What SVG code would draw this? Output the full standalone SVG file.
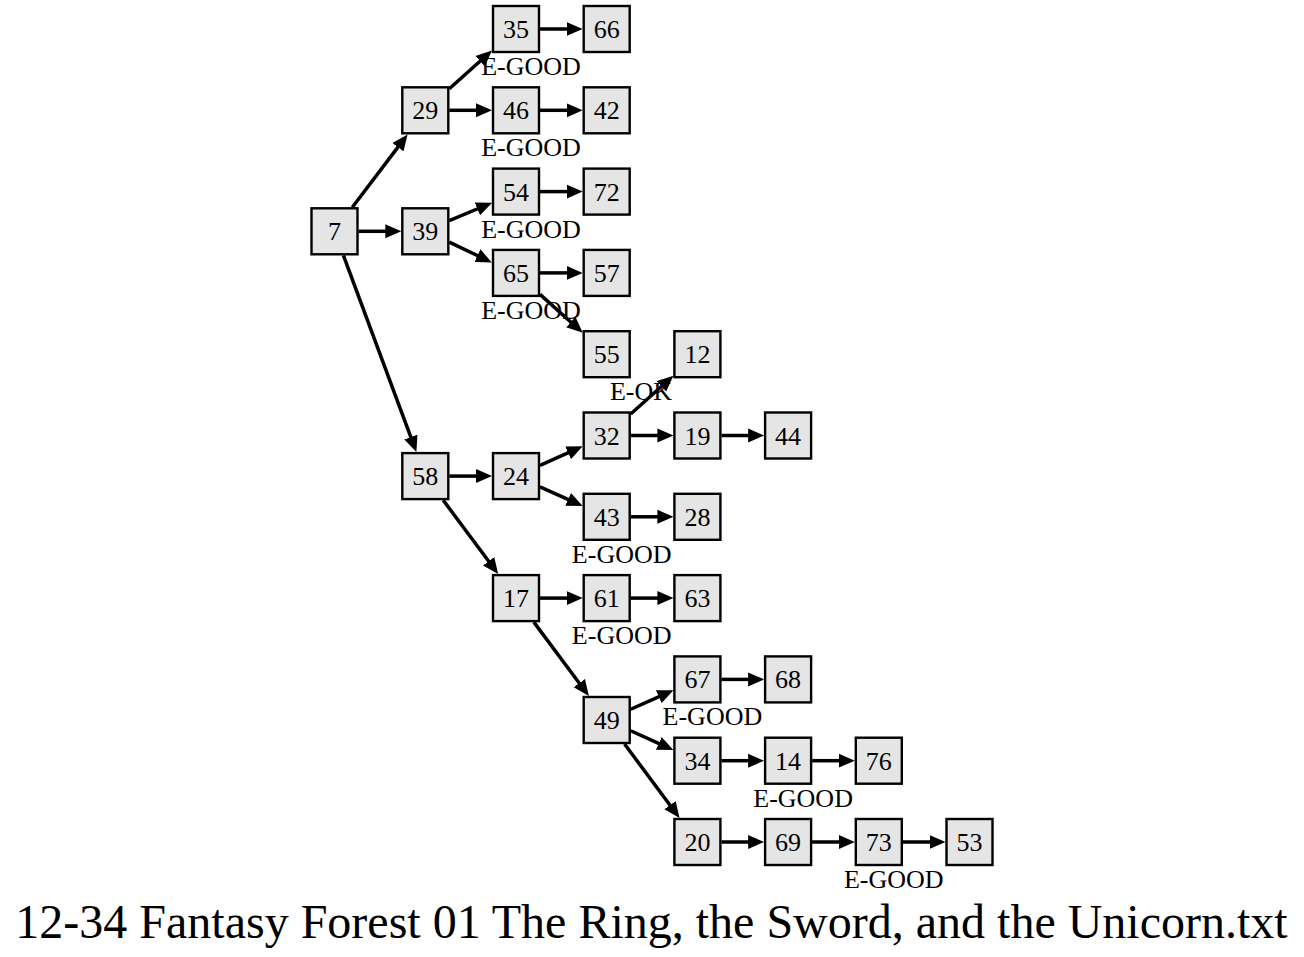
<svg xmlns="http://www.w3.org/2000/svg" width="1304" height="957" viewBox="0 0 1304 957">
<style>
.n rect{fill:#e5e5e5;stroke:#000;stroke-width:2.4}
.n text,.l{font-family:"Liberation Serif","Times New Roman",serif;font-size:26px;fill:#000}
.n text{text-anchor:middle}
.l{text-anchor:middle}
#edges line{stroke:#000;stroke-width:3.5;marker-end:url(#a)}
.t{font-family:"Liberation Serif","Times New Roman",serif;font-size:48px;text-anchor:middle;fill:#000}
</style>
<defs>
<marker id="a" markerUnits="userSpaceOnUse" markerWidth="17" markerHeight="15" refX="1" refY="7.5" orient="auto" viewBox="0 0 17 15"><path d="M0,0.5 L16,7.5 L0,14.5 z" fill="#000"/></marker>
</defs>
<rect width="1304" height="957" fill="#fff"/>
<g id="edges">
<line x1="352.34" y1="207.3" x2="398.51" y2="146.34"/>
<line x1="358.5" y1="231.3" x2="386.3" y2="231.3"/>
<line x1="343.4" y1="255.3" x2="411.18" y2="438.04"/>
<line x1="449.3" y1="88.79" x2="480.83" y2="60.52"/>
<line x1="449.3" y1="110.3" x2="477" y2="110.3"/>
<line x1="540" y1="29" x2="567.7" y2="29"/>
<line x1="540" y1="110.3" x2="567.7" y2="110.3"/>
<line x1="449.3" y1="220.54" x2="478.31" y2="208.5"/>
<line x1="449.3" y1="242.06" x2="478.31" y2="256"/>
<line x1="540" y1="191.6" x2="567.7" y2="191.6"/>
<line x1="540" y1="272.9" x2="567.7" y2="272.9"/>
<line x1="540" y1="294.41" x2="571.53" y2="322.68"/>
<line x1="449.3" y1="476.1" x2="477" y2="476.1"/>
<line x1="443.14" y1="500.1" x2="489.21" y2="562.06"/>
<line x1="540" y1="465.34" x2="569.01" y2="452.4"/>
<line x1="540" y1="486.86" x2="569.01" y2="499.9"/>
<line x1="630.7" y1="413.99" x2="662.23" y2="385.72"/>
<line x1="630.7" y1="435.5" x2="658.4" y2="435.5"/>
<line x1="721.4" y1="435.5" x2="749.1" y2="435.5"/>
<line x1="630.7" y1="516.8" x2="658.4" y2="516.8"/>
<line x1="540" y1="598.1" x2="567.7" y2="598.1"/>
<line x1="630.7" y1="598.1" x2="658.4" y2="598.1"/>
<line x1="533.84" y1="622.1" x2="579.91" y2="683.96"/>
<line x1="630.7" y1="709.24" x2="659.71" y2="696.3"/>
<line x1="630.7" y1="730.76" x2="659.71" y2="743.8"/>
<line x1="624.54" y1="744" x2="670.61" y2="805.96"/>
<line x1="721.4" y1="679.4" x2="749.1" y2="679.4"/>
<line x1="721.4" y1="760.7" x2="749.1" y2="760.7"/>
<line x1="812.1" y1="760.7" x2="839.8" y2="760.7"/>
<line x1="721.4" y1="842" x2="749.1" y2="842"/>
<line x1="812.1" y1="842" x2="839.8" y2="842"/>
<line x1="902.8" y1="842" x2="930.5" y2="842"/>
</g>
<g id="n7" class="n"><rect x="311.5" y="208.3" width="46" height="46"/><text x="334.5" y="240.3">7</text></g>
<g id="n29" class="n"><rect x="402.3" y="87.3" width="46" height="46"/><text x="425.3" y="119.3">29</text></g>
<g id="n39" class="n"><rect x="402.3" y="208.3" width="46" height="46"/><text x="425.3" y="240.3">39</text></g>
<g id="n58" class="n"><rect x="402.3" y="453.1" width="46" height="46"/><text x="425.3" y="485.1">58</text></g>
<g id="n35" class="n"><rect x="493" y="6" width="46" height="46"/><text x="516" y="38">35</text></g>
<g id="n46" class="n"><rect x="493" y="87.3" width="46" height="46"/><text x="516" y="119.3">46</text></g>
<g id="n54" class="n"><rect x="493" y="168.6" width="46" height="46"/><text x="516" y="200.6">54</text></g>
<g id="n65" class="n"><rect x="493" y="249.9" width="46" height="46"/><text x="516" y="281.9">65</text></g>
<g id="n24" class="n"><rect x="493" y="453.1" width="46" height="46"/><text x="516" y="485.1">24</text></g>
<g id="n17" class="n"><rect x="493" y="575.1" width="46" height="46"/><text x="516" y="607.1">17</text></g>
<g id="n66" class="n"><rect x="583.7" y="6" width="46" height="46"/><text x="606.7" y="38">66</text></g>
<g id="n42" class="n"><rect x="583.7" y="87.3" width="46" height="46"/><text x="606.7" y="119.3">42</text></g>
<g id="n72" class="n"><rect x="583.7" y="168.6" width="46" height="46"/><text x="606.7" y="200.6">72</text></g>
<g id="n57" class="n"><rect x="583.7" y="249.9" width="46" height="46"/><text x="606.7" y="281.9">57</text></g>
<g id="n55" class="n"><rect x="583.7" y="331.2" width="46" height="46"/><text x="606.7" y="363.2">55</text></g>
<g id="n32" class="n"><rect x="583.7" y="412.5" width="46" height="46"/><text x="606.7" y="444.5">32</text></g>
<g id="n43" class="n"><rect x="583.7" y="493.8" width="46" height="46"/><text x="606.7" y="525.8">43</text></g>
<g id="n61" class="n"><rect x="583.7" y="575.1" width="46" height="46"/><text x="606.7" y="607.1">61</text></g>
<g id="n49" class="n"><rect x="583.7" y="697" width="46" height="46"/><text x="606.7" y="729">49</text></g>
<g id="n12" class="n"><rect x="674.4" y="331.2" width="46" height="46"/><text x="697.4" y="363.2">12</text></g>
<g id="n19" class="n"><rect x="674.4" y="412.5" width="46" height="46"/><text x="697.4" y="444.5">19</text></g>
<g id="n28" class="n"><rect x="674.4" y="493.8" width="46" height="46"/><text x="697.4" y="525.8">28</text></g>
<g id="n63" class="n"><rect x="674.4" y="575.1" width="46" height="46"/><text x="697.4" y="607.1">63</text></g>
<g id="n67" class="n"><rect x="674.4" y="656.4" width="46" height="46"/><text x="697.4" y="688.4">67</text></g>
<g id="n34" class="n"><rect x="674.4" y="737.7" width="46" height="46"/><text x="697.4" y="769.7">34</text></g>
<g id="n20" class="n"><rect x="674.4" y="819" width="46" height="46"/><text x="697.4" y="851">20</text></g>
<g id="n44" class="n"><rect x="765.1" y="412.5" width="46" height="46"/><text x="788.1" y="444.5">44</text></g>
<g id="n68" class="n"><rect x="765.1" y="656.4" width="46" height="46"/><text x="788.1" y="688.4">68</text></g>
<g id="n14" class="n"><rect x="765.1" y="737.7" width="46" height="46"/><text x="788.1" y="769.7">14</text></g>
<g id="n69" class="n"><rect x="765.1" y="819" width="46" height="46"/><text x="788.1" y="851">69</text></g>
<g id="n76" class="n"><rect x="855.8" y="737.7" width="46" height="46"/><text x="878.8" y="769.7">76</text></g>
<g id="n73" class="n"><rect x="855.8" y="819" width="46" height="46"/><text x="878.8" y="851">73</text></g>
<g id="n53" class="n"><rect x="946.5" y="819" width="46" height="46"/><text x="969.5" y="851">53</text></g>
<g id="labels">
<text class="l" x="531" y="75">E-GOOD</text>
<text class="l" x="531" y="156.3">E-GOOD</text>
<text class="l" x="531" y="237.6">E-GOOD</text>
<text class="l" x="531" y="318.9">E-GOOD</text>
<text class="l" x="641" y="400.2">E-OK</text>
<text class="l" x="621.7" y="562.8">E-GOOD</text>
<text class="l" x="621.7" y="644.1">E-GOOD</text>
<text class="l" x="712.4" y="725.4">E-GOOD</text>
<text class="l" x="803.1" y="806.7">E-GOOD</text>
<text class="l" x="893.8" y="888">E-GOOD</text>
</g>
<text class="t" x="651.5" y="938">12-34 Fantasy Forest 01 The Ring, the Sword, and the Unicorn.txt</text>
</svg>
